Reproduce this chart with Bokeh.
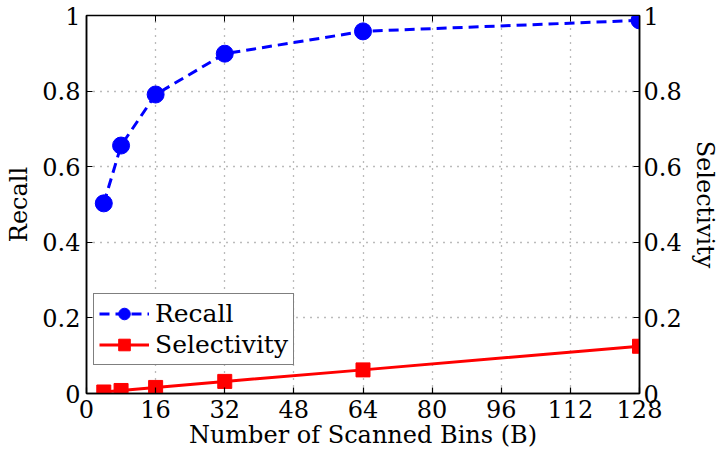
import math
from bokeh.plotting import figure
from bokeh.models import Range1d, LinearAxis, FixedTicker, Legend, LegendItem
from bokeh.embed import file_html
from bokeh.resources import INLINE

bins = [4, 8, 16, 32, 64, 128]
recall = [0.503, 0.656, 0.791, 0.899, 0.958, 0.987]
selectivity = [0.004, 0.008, 0.016, 0.032, 0.0625, 0.125]
x_ticks = [0, 16, 32, 48, 64, 80, 96, 112, 128]
y_ticks = [0, 0.2, 0.4, 0.6, 0.8, 1]

FONT = "DejaVu Serif"

p = figure(width=721, height=466, output_backend="svg", toolbar_location=None,
           x_range=Range1d(0, 128), y_range=Range1d(0, 1),
           min_border_left=86, min_border_right=79, min_border_top=15, min_border_bottom=73)
p.extra_y_ranges = {"sel": Range1d(0, 1)}
p.outline_line_color = "black"
p.outline_line_width = 1.5
p.background_fill_color = "white"
p.border_fill_color = "white"

for g in p.grid:
    g.grid_line_color = "#777777"
    g.grid_line_dash = "1 6"
    g.grid_line_width = 1.3
p.xgrid.ticker = FixedTicker(ticks=x_ticks)
p.ygrid.ticker = FixedTicker(ticks=y_ticks)

def style_axis(ax, ticks):
    ax.ticker = FixedTicker(ticks=ticks)
    ax.major_tick_in = 6
    ax.major_tick_out = 0
    ax.minor_tick_line_color = None
    ax.axis_line_color = "black"
    ax.axis_line_width = 1.5
    ax.major_tick_line_width = 1.2
    ax.major_label_text_font = FONT
    ax.major_label_text_font_size = "24px"
    ax.major_label_text_color = "black"
    ax.axis_label_text_font = FONT
    ax.axis_label_text_font_size = "24px"
    ax.axis_label_text_font_style = "normal"
    ax.axis_label_text_color = "black"

xa = p.xaxis[0]
style_axis(xa, x_ticks)
xa.axis_label = "Number of Scanned Bins (B)"
xa.major_label_standoff = 6
xa.axis_label_standoff = 0

ya = p.yaxis[0]
style_axis(ya, y_ticks)
ya.axis_label = "Recall"
ya.major_label_standoff = 6
ya.axis_label_standoff = 6
ya.major_label_overrides = {0: "0", 1: "1"}

ra = LinearAxis(y_range_name="sel")
style_axis(ra, y_ticks)
ra.axis_label = "Selectivity"
ra.major_label_standoff = 4
ra.axis_label_standoff = 6
ra.major_label_overrides = {0: "0", 1: "1"}
ra.axis_label_orientation = "vertical"
p.add_layout(ra, "right")

ta = LinearAxis()
ta.ticker = FixedTicker(ticks=x_ticks)
ta.major_tick_in = 6
ta.major_tick_out = 0
ta.minor_tick_line_color = None
ta.major_label_overrides = {t: "" for t in x_ticks}
ta.axis_line_color = "black"
ta.major_label_standoff = 0
p.add_layout(ta, "above")

rl = p.line(bins, recall, line_color="blue", line_width=3, line_dash="10 6")
rc = p.scatter(bins, recall, marker="circle", size=17, fill_color="blue", line_color="blue")
sl = p.line(bins, selectivity, line_color="red", line_width=3, y_range_name="sel")
ss = p.scatter(bins, selectivity, marker="square", size=14, fill_color="red", line_color="red",
               y_range_name="sel")

legend = Legend(items=[LegendItem(label="Recall", renderers=[rl, rc]),
                       LegendItem(label="Selectivity", renderers=[sl, ss])],
                location=(7, 28))
legend.label_text_font = FONT
legend.label_text_font_size = "25px"
legend.label_text_color = "black"
legend.border_line_color = "black"
legend.border_line_width = 1.2
legend.glyph_width = 50
legend.glyph_height = 29
legend.label_height = 29
legend.label_standoff = 6
legend.spacing = 2
legend.padding = 5
legend.margin = 0
legend.background_fill_alpha = 1
p.add_layout(legend, "center")

open("out.html", "w").write(file_html(p, INLINE))
